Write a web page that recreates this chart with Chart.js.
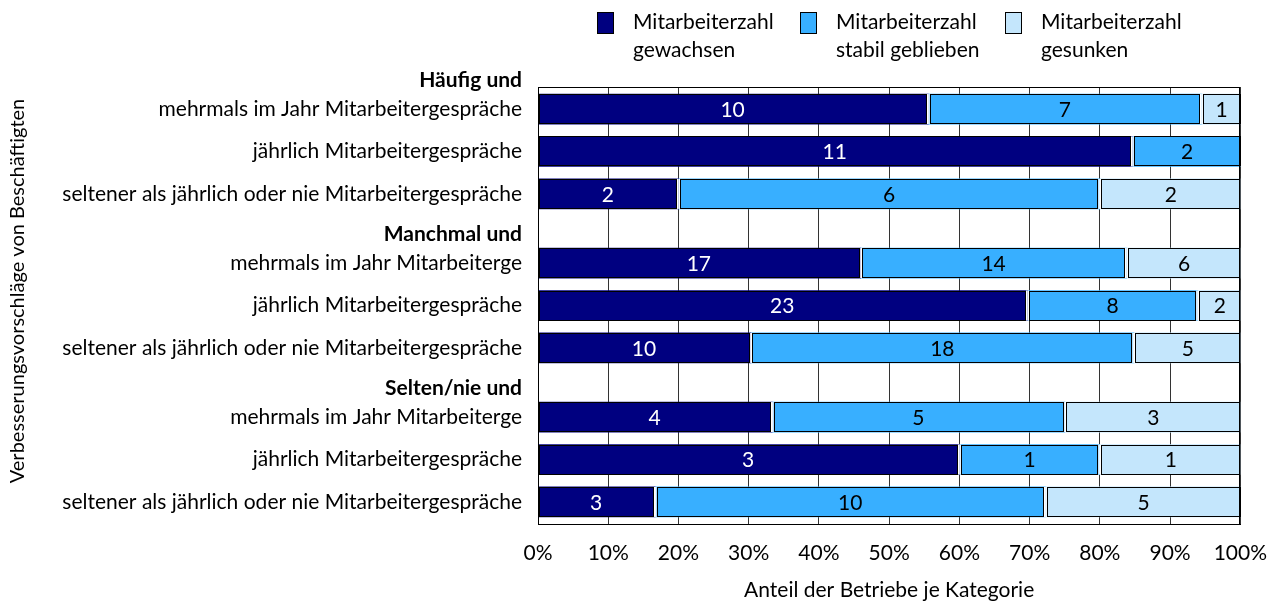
<!DOCTYPE html>
<html lang="de">
<head>
<meta charset="utf-8">
<script src="https://cdn.jsdelivr.net/npm/chart.js@4.4.1/dist/chart.umd.min.js"></script>
<style>
  html, body { margin: 0; padding: 0; background: #fff; }
</style>
</head>
<body>
<canvas id="barchart" width="1284" height="606"></canvas>
<script>
// Gruppen (Verbesserungsvorschläge) und Zeilen (Mitarbeitergespräche)
const groups = ['Häufig und', 'Manchmal und', 'Selten/nie und'];
const rowLabels = [
  'mehrmals im Jahr Mitarbeitergespräche',
  'jährlich Mitarbeitergespräche',
  'seltener als jährlich oder nie Mitarbeitergespräche',
  'mehrmals im Jahr Mitarbeiterge',
  'jährlich Mitarbeitergespräche',
  'seltener als jährlich oder nie Mitarbeitergespräche',
  'mehrmals im Jahr Mitarbeiterge',
  'jährlich Mitarbeitergespräche',
  'seltener als jährlich oder nie Mitarbeitergespräche'
];
const rowGroup = [0, 0, 0, 1, 1, 1, 2, 2, 2];

// Anzahl Betriebe je Zeile
const seriesNames = [
  ['Mitarbeiterzahl', 'gewachsen'],
  ['Mitarbeiterzahl', 'stabil geblieben'],
  ['Mitarbeiterzahl', 'gesunken']
];
const gewachsen = [10, 11, 2, 17, 23, 10, 4, 3, 3];
const stabil    = [7, 2, 6, 14, 8, 18, 5, 1, 10];
const gesunken  = [1, 0, 2, 6, 2, 5, 3, 1, 5];
const xTicks = [0, 10, 20, 30, 40, 50, 60, 70, 80, 90, 100];
const yTitle = 'Verbesserungsvorschläge von Beschäftigten';

const colors = ['#000080', '#38AFFF', '#C4E6FC'];
const FONT = 'Lato, "Open Sans", sans-serif';
const FS = 21;
const GROUP_GAP = 0.63;
const rowPos = i => i + rowGroup[i] * GROUP_GAP;
const counts = [gewachsen, stabil, gesunken];
const totals = gewachsen.map((v, i) => v + stabil[i] + gesunken[i]);

Chart.defaults.font.family = FONT;
Chart.defaults.font.size = FS;
Chart.defaults.color = '#000';

const datasets = counts.map((arr, d) => ({
  label: seriesNames[d],
  data: arr.map((v, i) => ({ x: v / totals[i] * 100, y: rowPos(i), n: v })),
  backgroundColor: colors[d],
  borderWidth: 0,
  barThickness: 30
}));

// Segmente mit schwarzem Rahmen und weißer Fuge, Zahlen in der Mitte
const segmentPlugin = {
  id: 'segments',
  afterDatasetsDraw(chart) {
    const ctx = chart.ctx;
    const area = chart.chartArea;
    ctx.save();
    chart.data.datasets.forEach((ds, d) => {
      chart.getDatasetMeta(d).data.forEach((el, i) => {
        const n = ds.data[i].n;
        if (!n) return;
        const p = el.getProps(['x', 'y', 'base', 'height'], true);
        let left = Math.min(p.x, p.base), right = Math.max(p.x, p.base);
        const top = p.y - p.height / 2, h = p.height;
        const gl = left > area.left + 1 ? 1.5 : 0;
        const gr = right < area.right - 1 ? 1.5 : 0;
        ctx.fillStyle = '#fff';
        if (gl) ctx.fillRect(left, top, gl, h);
        if (gr) ctx.fillRect(right - gr, top, gr, h);
        left += gl; right -= gr;
        ctx.strokeStyle = '#000';
        ctx.lineWidth = 1;
        ctx.strokeRect(Math.round(left) + 0.5, Math.round(top) + 0.5,
          Math.round(right - left) - 1, Math.round(h) - 1);
        ctx.fillStyle = d === 0 ? '#fff' : '#000';
        ctx.font = FS + 'px ' + FONT;
        ctx.textAlign = 'center';
        ctx.textBaseline = 'middle';
        ctx.fillText(String(n), (left + right) / 2, p.y + 1);
      });
    });
    ctx.restore();
  },
  afterDraw(chart) {
    const ctx = chart.ctx;
    const a = chart.chartArea;
    const yScale = chart.scales.y;
    ctx.save();
    // Rahmen des Diagrammbereichs
    ctx.strokeStyle = '#000';
    ctx.lineWidth = 1;
    ctx.strokeRect(Math.round(a.left) + 0.5, Math.round(a.top) + 0.5,
      Math.round(a.right - a.left) - 1, Math.round(a.bottom - a.top));
    // fette Gruppenüberschriften
    ctx.font = 'bold ' + FS + 'px ' + FONT;
    ctx.fillStyle = '#000';
    ctx.textAlign = 'right';
    ctx.textBaseline = 'middle';
    groups.forEach((g, k) => {
      const first = rowGroup.indexOf(k);
      ctx.fillText(g, a.left - 16, yScale.getPixelForValue(rowPos(first) - 0.69));
    });
    // Achsentitel links, leicht über der Mitte
    ctx.font = (FS - 1) + 'px ' + FONT;
    ctx.save();
    ctx.translate(18, 291);
    ctx.rotate(-Math.PI / 2);
    ctx.textAlign = 'center';
    ctx.fillText(yTitle, 0, 0);
    ctx.restore();
    // Legende über dem Diagrammbereich
    ctx.font = FS + 'px ' + FONT;
    const boxW = 17, boxH = 22, textGap = 19, itemGap = 26;
    const widths = seriesNames.map(lines => Math.max(...lines.map(l => ctx.measureText(l).width)));
    const total = widths.reduce((s, w) => s + boxW + textGap + w, 0) + itemGap * (widths.length - 1);
    let x = Math.round((a.left + a.right) / 2 - total / 2);
    ctx.textAlign = 'left';
    seriesNames.forEach((lines, d) => {
      ctx.fillStyle = colors[d];
      ctx.fillRect(x, 12, boxW, boxH);
      ctx.strokeStyle = '#000';
      ctx.strokeRect(x + 0.5, 12.5, boxW - 1, boxH - 1);
      ctx.fillStyle = '#000';
      lines.forEach((l, j) => ctx.fillText(l, x + boxW + textGap, 22 + j * 28));
      x = Math.round(x + boxW + textGap + widths[d] + itemGap);
    });
    ctx.restore();
  }
};

new Chart(document.getElementById('barchart'), {
  type: 'bar',
  data: { datasets },
  plugins: [segmentPlugin],
  options: {
    responsive: false,
    animation: false,
    indexAxis: 'y',
    layout: { padding: { top: 87, right: 43, bottom: 0, left: 0 } },
    plugins: {
      legend: { display: false },
      tooltip: { enabled: false }
    },
    scales: {
      x: {
        type: 'linear',
        stacked: true,
        min: 0,
        max: 100,
        afterBuildTicks: scale => { scale.ticks = xTicks.map(v => ({ value: v })); },
        ticks: { callback: v => v + '%', padding: 17, autoSkip: false, maxRotation: 0 },
        grid: { color: '#333', drawTicks: false },
        border: { color: '#000' },
        title: { display: true, text: 'Anteil der Betriebe je Kategorie', padding: 3 },
        afterFit: scale => { scale.height = 82; }
      },
      y: {
        type: 'linear',
        stacked: true,
        reverse: true,
        offset: false,
        min: -0.52,
        max: rowPos(rowLabels.length - 1) + 0.52,
        afterBuildTicks: scale => { scale.ticks = rowLabels.map((_, i) => ({ value: rowPos(i) })); },
        ticks: { callback: (v, i) => rowLabels[i], padding: 8, autoSkip: false },
        grid: { display: false },
        border: { color: '#000' },
        afterFit: scale => { scale.width = 538; }
      }
    }
  }
});
</script>
</body>
</html>
